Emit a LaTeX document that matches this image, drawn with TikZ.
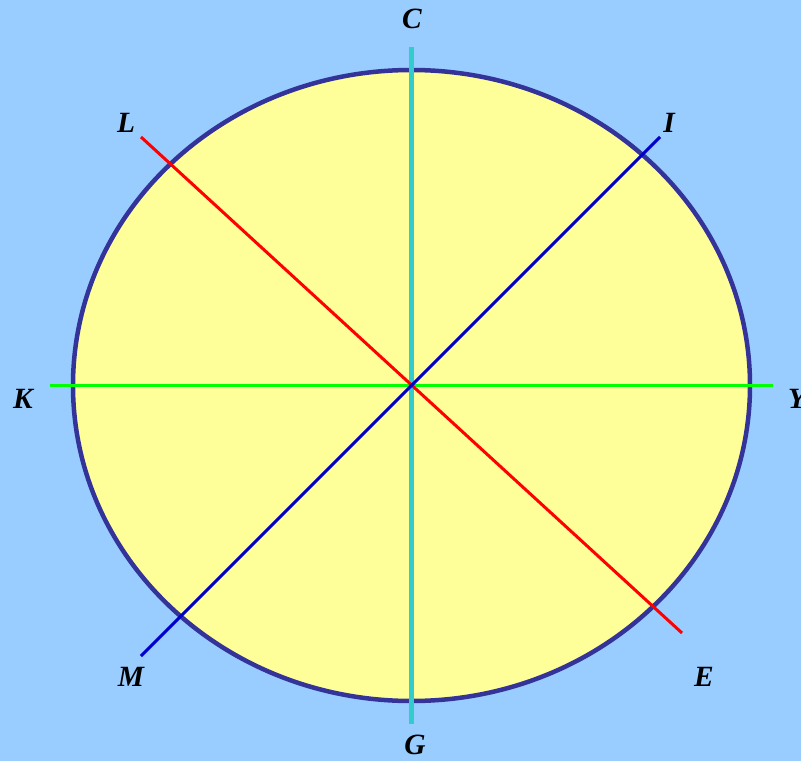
\documentclass[tikz,border=0pt]{standalone}
\usepackage{fontspec}
\setmainfont{Liberation Serif}
\usetikzlibrary{positioning}
\definecolor{sky}{HTML}{99CCFF}
\definecolor{cream}{HTML}{FFFF99}
\definecolor{rim}{HTML}{333399}
\definecolor{teal}{HTML}{33CCCC}
\definecolor{lime}{HTML}{00FF00}
\definecolor{navy}{HTML}{0000CC}
\begin{document}
\begin{tikzpicture}[
  x=1bp,y=-1bp,
  axis/.style={line width=3bp},
  tag/.style={font=\fontsize{29.5}{29.5}\selectfont\bfseries\itshape,inner sep=0pt}
]
  \fill[sky] (0,0) rectangle (801,761);
  \useasboundingbox (0,0) rectangle (801,761);
  \draw[rim,fill=cream,line width=4.5bp] (411.5,385.5) ellipse [x radius=338.5,y radius=315.5];

  \coordinate (top) at (411.5,47);
  \coordinate (bottom) at (411.5,724);
  \coordinate (left) at (50,385.5);
  \coordinate (right) at (772.5,385.5);
  \coordinate (ul) at (141,137);
  \coordinate (lr) at (682,633);
  \coordinate (ur) at (660,137);
  \coordinate (ll) at (141,656);

  \draw[axis,teal,line width=5bp] (top) -- (bottom);
  \draw[axis,lime,line width=3.5bp] (left) -- (right);
  \draw[axis,red] (ul) -- (lr);
  \draw[axis,navy] (ur) -- (ll);

  \node[tag] (c) at (412,19) {C};
  \node[tag] (g) at (415,745) {G};
  \node[tag] (k) at (23,399) {K};
  \node[tag] (y) at (797,399) {Y};
  \node[tag] (l) at (126,123) {L};
  \node[tag] (i) at (669,123) {I};
  \node[tag] (m) at (131,677) {M};
  \node[tag] (e) at (704,677) {E};
\end{tikzpicture}
\end{document}
